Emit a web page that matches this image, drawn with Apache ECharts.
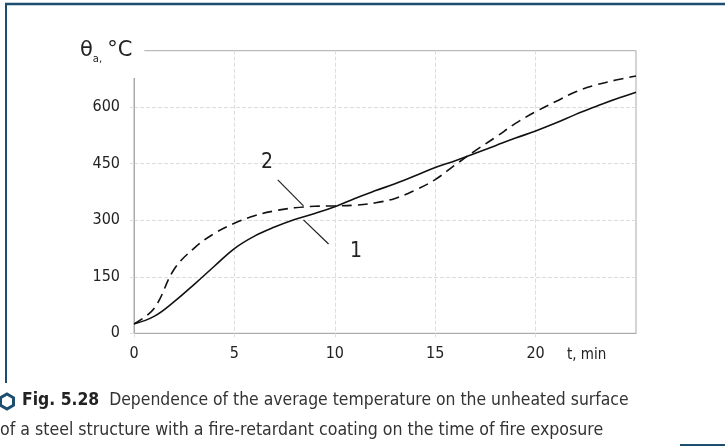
<!DOCTYPE html>
<html><head><meta charset="utf-8">
<script src="https://cdn.jsdelivr.net/npm/echarts@6/dist/echarts.min.js"></script>
<style>html,body{margin:0;padding:0;background:#fff}#c{width:725px;height:446px}</style>
</head><body><div id="c"></div>
<script>
// time, min
const times = [0,1,2,3,4,5,6,7,8,9,10,11,12,13,14,15,16,17,18,19,20,21,22,23,24,25];
// curve 1 (solid)
const curve1 = [25,45,84,130,178,225,258,282,302,318,336,358,378,397,418,440,458,478,498,518,537,558,581,602,622,640];
// curve 2 (dashed)
const curve2 = [25,66,170,226,265,292,312,325,333,337,338,340,346,358,380,408,447,485,520,557,588,615,641,659,672,683];
const xTicks = [0,5,10,15,20];
const yTicks = [0,150,300,450,600];
// annotation labels and leader lines [t, value]
const label1 = [11.06, 216];
const label2 = [6.63, 452];
const leader1 = [[8.44, 301],[9.69, 237]];
const leader2 = [[7.16, 407],[8.44, 338]];

const F = '"DejaVu Sans Condensed", "Liberation Sans Narrow", sans-serif';
const chart = echarts.init(document.getElementById('c'), null, {renderer:'canvas'});
const toPairs = (xs, ys) => xs.map((x,i)=>[x, ys[i]]);
chart.setOption({
  animation:false,
  backgroundColor:'#fff',
  grid:{left:134, right:89, top:50.7, bottom:112.7, show:true, borderColor:'#aaa', borderWidth:1, z:0},
  title:[{
    left:76, top:30, padding:[8,12,14,4], backgroundColor:'#fff', z:10,
    text:'{t|θ}{s|a,} {t|°C}',
    textStyle:{fontWeight:'normal', rich:{
      t:{fontFamily:'"DejaVu Sans", sans-serif', fontSize:21, fontWeight:'normal', color:'#222'},
      s:{fontFamily:'"DejaVu Sans", sans-serif', fontSize:10, fontWeight:'normal', color:'#222', padding:[16,0,0,0]}
    }}
  },{
    left:567, top:348, padding:0,
    text:'t, min',
    textStyle:{fontFamily:F, fontSize:15, fontWeight:'normal', color:'#222'}
  }],
  xAxis:{type:'value', min:0, max:25, interval:5,
    axisLine:{lineStyle:{color:'#aaa'}},
    axisTick:{show:true, length:6, lineStyle:{color:'#ddd', type:'dashed'}},
    axisLabel:{margin:13, showMaxLabel:false, fontFamily:F, fontSize:16, color:'#222',
      formatter:v=>xTicks.includes(v)?String(v):''},
    splitLine:{show:true, showMaxLine:false, lineStyle:{color:'#ddd', type:'dashed'}}
  },
  yAxis:{type:'value', min:0, max:750, interval:150,
    axisLine:{show:true, lineStyle:{color:'#aaa'}},
    axisTick:{show:true, length:6, lineStyle:{color:'#ddd', type:'dashed'}},
    axisLabel:{margin:14, showMaxLabel:false, fontFamily:F, fontSize:16, color:'#222',
      formatter:v=>yTicks.includes(v)?String(v):''},
    splitLine:{show:true, showMaxLine:false, lineStyle:{color:'#ddd', type:'dashed'}}
  },
  series:[{
    type:'line', data:toPairs(times, curve1), smooth:0.4, showSymbol:false,
    lineStyle:{color:'#111', width:1.6},
    markLine:{silent:true, symbol:'none', label:{show:false},
      lineStyle:{color:'#222', width:1.2, type:'solid'},
      data:[[{coord:leader1[0]},{coord:leader1[1]}],[{coord:leader2[0]},{coord:leader2[1]}]]},
    markPoint:{silent:true, symbolSize:1, itemStyle:{color:'rgba(0,0,0,0)'},
      label:{show:true, position:'inside', formatter:p=>p.name, fontFamily:'"DejaVu Sans Condensed", sans-serif', fontSize:21, color:'#222'},
      data:[{name:'1', coord:label1},{name:'2', coord:label2}]}
  },{
    type:'line', data:toPairs(times, curve2), smooth:0.4, showSymbol:false,
    lineStyle:{color:'#111', width:1.6, type:[10,6]}
  }],
  graphic:[
    {type:'line', shape:{x1:5, y1:4, x2:725, y2:4}, style:{stroke:'#1d4e70', lineWidth:2.5}},
    {type:'line', shape:{x1:6, y1:3, x2:6, y2:383}, style:{stroke:'#1d4e70', lineWidth:2}},
    {type:'line', shape:{x1:680, y1:445, x2:725, y2:445}, style:{stroke:'#1d4e70', lineWidth:2}},
    {type:'polygon', shape:{points:[[7,394],[13.5,397.75],[13.5,405.25],[7,409],[0.5,405.25],[0.5,397.75]]}, style:{fill:'none', stroke:'#1d4e70', lineWidth:3}},
    {type:'text', left:22, top:392, style:{
      text:'{b|Fig. 5.28}  Dependence of the average temperature on the unheated surface',
      font:'17.4px ' + F, fill:'#333',
      rich:{b:{fontFamily:F, fontSize:17.4, fontWeight:'bold', fill:'#222', color:'#222'}}
    }},
    {type:'text', left:0, top:421, style:{
      text:'of a steel structure with a fire-retardant coating on the time of fire exposure',
      font:'17.6px ' + F, fill:'#333'
    }}
  ]
});
</script></body></html>
